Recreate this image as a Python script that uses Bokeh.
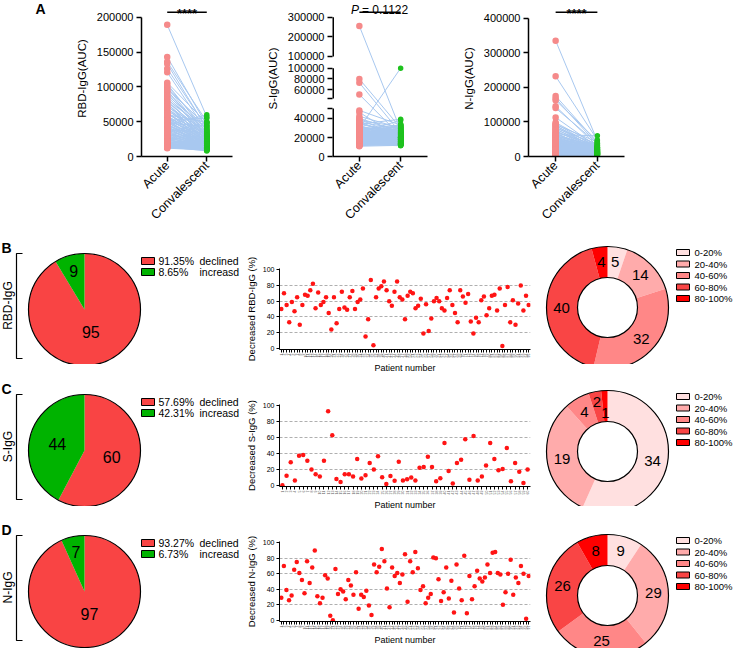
import math
from bokeh.plotting import figure
from bokeh.layouts import column, row
from bokeh.models import Range1d, FixedTicker
from bokeh.core.properties import value
from bokeh.embed import file_html
from bokeh.resources import INLINE

FONT = "Liberation Sans"

# ---------------- data ----------------
groups = ["Acute", "Convalescent"]

# Panel A: paired AUC values per patient (thousands of AUC)
rbd_acute_k = [189,143,136,133,126,121,106,104,101,99, 97,95,93,91,88,86,84,82,80,78,
               77,75,73,72,70,69,67,66,64,63, 62,61,59,58,57,56,55,54,53,52,
               51,50,49,48,47,46,45,44,43,42, 41,40,39,38,37,36,35,34,33,32,
               31,30,29,28,27.5,27,26,25,24.5,24, 23,22,21.5,21,20,19.5,19,18.5,18,17.5,
               17,16.5,16,15.5,15,14.5,14,13.5,13,12.5, 12,60,48,39,31,
               24,19,28,35,45,52,16,13,22]
rbd_conv_k = [57,45,50,40,42,36,48,33,38,30, 44,28,35,26,40,31,22,37,27,33,
              19,30,24,35,21,29,25,32,18,27, 23,31,20,26,16,29,22,24,14,27,
              19,23,17,25,12,21,18,24,15,20, 13,22,16,19,10,21,14,18,17,12,
              20,15,16,11,19,14,17,9,15,13, 16,12,14,17,11,13,15,10,12,14,
              9,13,11,12,10,13,8,11,12,10, 9,49,43,34,27,
              30,25,47,49,60,55,22,18,38]
s_acute_k = [255,80,73,52,48,46,40,38,37,36, 35,34,33,32,31,30,29.5,29,28.5,28,
             27.5,27,26.5,26,25.5,25,24.5,24,23.5,23, 22.5,22,21.5,21,20.5,20,19.5,19,18.5,18,
             17.5,17,16.5,16,15.5,15,14.5,14,13.5,13, 42,39,34,31,28,26,23,21,19,17,
             30,34,25,22,20,24,18,16,27,15, 21,14,19,13,23,17,12,20,15,26,
             18,14,12.5,22,16,13,24,17,19,12, 14.5,21,15.5,13.5,18.5,11.5,28,20.5,16.5,12,
             25,11,29,17.5]
s_conv_k = [28,30,25,22,33,20,26,31,18,29, 23,27,16,24,21,28,19,25,15,22,
            26,17,24,20,14,23,21,18,22,16, 20,19,13,18,17,15,18,16,14,17,
            12.5,15,16,13,14,12,13.5,13,12,11.5, 30,21,25,26,19,22,20,14,13,14,
            100,39,38,34,33,32,31,30,32,29, 28,27,27,26,26,25,24,24,23,28,
            22,21,20,25,19,18,30,21,23,17, 16,22,18,15,20,14,31,24,18,13,
            27,12,33,19]
n_acute_k = [335,232,175,168,163,145,140,113,98,95, 92,90,88,85,82,80,78,75,73,70,
             68,66,64,62,60,58,56,54,52,50, 48,47,45,44,42,41,40,38,37,36,
             35,34,33,32,31,30,29,28,27,26, 25,24,23,22,21,20,19.5,19,18,17.5,
             17,16,15.5,15,14,13.5,13,12.5,12,11.5, 11,10.5,10,9.5,9,8.5,8,7.5,7,6.5,
             6,5,4,3,58,52,46,39,33,27, 21,16,12,9,63,43,24,
             8,11,5,14,20,6,3]
n_conv_k = [45,48,40,35,45,30,38,28,33,25, 42,20,30,22,36,18,27,15,24,32,
            12,21,26,17,29,14,23,19,10,25, 16,21,13,18,9,20,15,22,11,17,
            8,14,19,12,16,7,13,18,10,15, 6,12,14,9,11,13,5,10,12,8,
            11,6,9,12,7,10,5,8,9,4, 7,8,5,6,4,5,3,6,4,3,
            4,3,2.5,2,30,26,24,20,16,14, 10,9,6,5,60,38,19,
            14,18,9,22,27,11,7]
sig_rbd = "****"
sig_s = "0.1122"
sig_n = "****"

# Panels B-D
pie_names = ["declined", "increasd"]
rbd_pie = [95, 9]
s_pie = [60, 44]
n_pie = [97, 7]
bins = ["0-20%", "20-40%", "40-60%", "60-80%", "80-100%"]
rbd_bins = [5, 14, 32, 40, 4]
s_bins = [34, 19, 4, 2, 1]
n_bins = [9, 29, 25, 26, 8]

rbd_decrease = [50,70,55,33,59,47,65,30,55,68, 67,74,82,51,71,55,59,65,45,24,
                65,32,50,72,52,49,65,73,50,59, 62,76,15,37,87,4,65,76,79,85,
                74,60,54,72,85,65,62,37,67,72, 70,51,54,63,19,56,22,38,60,64,
                60,51,48,64,74,55,45,33,74,66, 58,69,34,19,39,33,61,66,42,51,
                67,68,48,76,3, 55,78,33,61,30,57,80,48,67,55]
s_decrease = [0,12,29,6,37,38,31,20,14,11, 31,93,63,8,4,14,14,11,33,8.5,
              12.5,28,20,36.5,10,1.5,11.7,5.7,29.5,6, 7.7,9.7,6,22,23,36,23,5,9,53,
              18,2.4,28,32,58,7,62,6,11,25, 53,33,19,20.6,47,5,28,17,3,20]
n_decrease = [29,70,39,26,32,65,75,61,52,35, 76,48,68,90,31,22,29,58,54,6,
              0,66,34,40,37,27,52,45,33,62, 15,33,30,38,19,7,72,62,69,92,
              76,41,17,68,57,61,48,59,85,24, 76,62,88,67,39,44,22,29,34,81,
              80,53,25,36,68,28,51,10,72,41, 26,83,9,57,27,44,64,54,50,55,
              72,61,87,88,61,59,20,36, 60,78,33,55,48,70,60,2,57]

# ---------------- styles ----------------
C_ACUTE = "#F58A8A"
C_CONV = "#1EC21E"
C_LINE = "#A8C8F0"
C_RED = "#F94444"
C_GREEN = "#00B300"
C_DOT = "#FF1414"
BIN_COLORS = ["#FFE0E0", "#FFABAB", "#FF8787", "#F94545", "#FF0000"]

HA = 229    # height of row A (px)
FH = 159    # frame height of panel A plots (px)
TOP_B = HA + 8   # reference y where rows B-D start


def base_fig(**kw):
    p = figure(output_backend="svg", toolbar_location=None, **kw)
    p.outline_line_color = None
    p.background_fill_color = "white"
    p.border_fill_color = "white"
    return p


def txt(p, x, y, s, size, align="center", baseline="middle", style="normal", angle=0.0, x_off=0):
    p.text(x=[x], y=[y], text=[s], text_font=value(FONT), text_font_size=f"{size}px",
           text_align=align, text_baseline=baseline, text_font_style=style,
           angle=angle, x_offset=x_off, text_color="black")


def style_axis(ax, tick_px, label_px):
    ax.major_label_text_font = FONT
    ax.major_label_text_font_size = f"{tick_px}px"
    ax.major_label_text_color = "black"
    ax.axis_label_text_font = FONT
    ax.axis_label_text_font_size = f"{label_px}px"
    ax.axis_label_text_font_style = "normal"
    ax.axis_label_text_color = "black"
    ax.minor_tick_line_color = None
    ax.axis_line_color = "black"
    ax.major_tick_line_color = "black"


def pair_fig(acute, conv, width, left, right, ylabel, y_end, yticks, ylabels,
             disp, bounds=None, segs=None):
    p = base_fig(width=width, height=HA, x_range=Range1d(0.35, 2.65), y_range=Range1d(0, y_end),
                 min_border_left=left, min_border_right=right, min_border_top=0,
                 min_border_bottom=HA - FH)
    p.grid.visible = False
    ya = [disp(v) for v in acute]
    yc = [disp(v) for v in conv]
    p.multi_line(xs=[[1, 2] for _ in ya], ys=[[a, c] for a, c in zip(ya, yc)],
                 line_color=C_LINE, line_width=1)
    p.scatter(x=[1] * len(ya), y=ya, size=6.5, fill_color=C_ACUTE, line_color=None)
    p.scatter(x=[2] * len(yc), y=yc, size=5.5, fill_color=C_CONV, line_color=None)
    ya_ax = p.yaxis[0]
    style_axis(ya_ax, 11, 11.5)
    ya_ax.ticker = FixedTicker(ticks=yticks)
    ya_ax.major_label_overrides = dict(zip(yticks, ylabels))
    ya_ax.axis_label = ylabel
    ya_ax.major_tick_out = 5
    ya_ax.major_tick_in = 0
    ya_ax.major_tick_line_width = 1.5
    ya_ax.axis_line_width = 1.5
    ya_ax.major_label_standoff = 3
    ya_ax.axis_label_standoff = 6
    if bounds is not None:
        ya_ax.bounds = bounds
    if segs is not None:
        ya_ax.axis_line_color = None
        p.segment(x0=[0.35] * len(segs), x1=[0.35] * len(segs), y0=[s[0] for s in segs],
                  y1=[s[1] for s in segs], line_color="black", line_width=3)
    xa = p.xaxis[0]
    style_axis(xa, 12.5, 11)
    xa.ticker = FixedTicker(ticks=[1, 2])
    xa.major_label_overrides = {1: groups[0], 2: groups[1]}
    xa.major_label_orientation = math.pi / 4
    xa.major_tick_out = 5
    xa.major_tick_in = 0
    xa.major_tick_line_width = 1.5
    xa.axis_line_width = 1.5
    xa.major_label_standoff = 2
    upp = y_end / FH
    p.segment(x0=[1], x1=[2], y0=[(FH - 12) * upp], y1=[(FH - 12) * upp],
              line_color="black", line_width=1.6)
    return p, upp


K = 1000

# panel letter "A" in its own narrow canvas
aL = base_fig(width=72, height=HA, x_range=Range1d(8, 80), y_range=Range1d(-(HA + 8), -8),
              min_border=0, x_axis_type=None, y_axis_type=None)
aL.grid.visible = False
txt(aL, 43, -8, "A", 14, align="left", baseline="top", style="bold")

a1, upp1 = pair_fig(rbd_acute_k, rbd_conv_k, 170, 68, 10, "RBD-IgG(AUC)", 200000 * FH / 142,
                    [0, 50000, 100000, 150000, 200000], ["0", "50000", "100000", "150000", "200000"],
                    lambda v: v * K, bounds=(0, 200000))
txt(a1, 1.5, (FH - 13.5) * upp1, sig_rbd, 13, baseline="alphabetic", style="bold")


# broken axis for S-IgG: piecewise display (pixels above the x axis)
def s_disp(v):
    v = v * K
    if v <= 50000:
        pts = [(0, 0), (20000, 19), (40000, 39), (50000, 49)]
    elif v <= 100000:
        pts = [(45000, 59), (60000, 68), (80000, 79), (100000, 90)]
    else:
        pts = [(100000, 102), (200000, 122), (300000, 142)]
    for (x0, y0), (x1, y1) in zip(pts[:-1], pts[1:]):
        if v <= x1:
            return y0 + (v - x0) * (y1 - y0) / (x1 - x0)
    return pts[-1][1]


s_ticks = [0, 19, 39, 49, 59, 68, 79, 90, 102, 122, 142]
s_labels = ["0", "20000", "40000", "", "", "60000", "80000", "100000", "100000", "200000", "300000"]
a2, upp2 = pair_fig(s_acute_k, s_conv_k, 190, 90, 5, "S-IgG(AUC)", FH, s_ticks, s_labels,
                    s_disp, segs=[(0, 49), (59, 90), (102, 142)])
txt(a2, 1.5, (FH - 10) * upp2, "P", 12, align="left", baseline="alphabetic", style="italic", x_off=-29)
txt(a2, 1.5, (FH - 10) * upp2, "= " + sig_s, 12, align="left", baseline="alphabetic", x_off=-18)

a3, upp3 = pair_fig(n_acute_k, n_conv_k, 303, 96, 111, "N-IgG(AUC)", 400000 * FH / 141,
                    [0, 100000, 200000, 300000, 400000], ["0", "100000", "200000", "300000", "400000"],
                    lambda v: v * K, bounds=(0, 400000))
txt(a3, 1.5, (FH - 13.5) * upp3, sig_n, 13, baseline="alphabetic", style="bold")


# ---------------- pies ----------------
def pie_fig(counts, letter, name, top, bottom, cy):
    cx, r = 92, 56
    p = base_fig(width=242, height=bottom - top, x_range=Range1d(8, 250), y_range=Range1d(-bottom, -top),
                 min_border=0, x_axis_type=None, y_axis_type=None)
    p.grid.visible = False
    total = float(sum(counts))
    f_dec, f_inc = counts[0] / total, counts[1] / total
    a0 = math.pi / 2
    a1_ = a0 + 2 * math.pi * f_inc
    p.wedge(x=[cx, cx], y=[-cy, -cy], radius=r, start_angle=[a1_, a0], end_angle=[a0 + 2 * math.pi, a1_],
            fill_color=[C_RED, C_GREEN], line_color=None)
    p.circle(x=[cx], y=[-cy], radius=r, fill_color=None, line_color="black", line_width=1.2)
    for cnt, f, mid in [(counts[0], f_dec, (a1_ + a0 + 2 * math.pi) / 2), (counts[1], f_inc, (a0 + a1_) / 2)]:
        k = 0.72 if f < 0.15 else (0.42 if f > 0.8 else 0.5)
        txt(p, cx + k * r * math.cos(mid), -cy + k * r * math.sin(mid), str(cnt), 16)
    # legend
    for i, (cnt, nm, col) in enumerate(zip(counts, pie_names, [C_RED, C_GREEN])):
        yy = -(cy - 48.5 + 11 * i)
        p.rect(x=[155.5], y=[yy], width=13, height=7, fill_color=col, line_color="black", line_width=1)
        txt(p, 166, yy, f"{100 * cnt / total:.2f}%", 10.5, align="left")
        txt(p, 207, yy, nm, 10.5, align="left")
    # letter, bracket, side label
    txt(p, 9, -(cy - 62), letter, 14, align="left", style="bold")
    p.line(x=[30, 24, 24, 30], y=[-(cy - 56), -(cy - 56), -(cy + 49), -(cy + 49)],
           line_color="black", line_width=1.2)
    txt(p, 15, -(cy - 4), name, 12, angle=math.pi / 2)
    return p


pB = pie_fig(rbd_pie, "B", "RBD-IgG", TOP_B, 372, 317)
pC = pie_fig(s_pie, "C", "S-IgG", 372, 514, 458)
pD = pie_fig(n_pie, "D", "N-IgG", 514, 656, 599)


# ---------------- decrease scatter ----------------
def dec_fig(vals, ylabel, height, top, bottom):
    n = len(vals)
    p = base_fig(width=290, height=height, x_range=Range1d(0.3, n + 0.7), y_range=Range1d(-1.5, 101.5),
                 min_border_left=35, min_border_right=2, min_border_top=top, min_border_bottom=bottom)
    p.xgrid.visible = False
    p.ygrid.ticker = FixedTicker(ticks=[20, 40, 60, 80])
    p.ygrid.grid_line_color = "#9a9a9a"
    p.ygrid.grid_line_dash = "3 2"
    p.ygrid.grid_line_width = 0.8
    p.scatter(x=list(range(1, n + 1)), y=vals, size=4.5, fill_color=C_DOT, line_color=None)
    ya = p.yaxis[0]
    style_axis(ya, 7, 9.5)
    ya.ticker = FixedTicker(ticks=[0, 20, 40, 60, 80, 100])
    ya.axis_label = ylabel
    ya.major_tick_out = 3
    ya.major_tick_in = 0
    ya.major_label_standoff = 2
    ya.axis_label_standoff = 3
    xa = p.xaxis[0]
    style_axis(xa, 3.5, 9)
    xa.ticker = FixedTicker(ticks=list(range(1, n + 1)))
    xa.major_label_orientation = math.pi / 2
    xa.major_label_text_color = "#555555"
    xa.major_tick_out = 3
    xa.major_tick_in = 0
    xa.major_label_standoff = 1
    xa.axis_label = "Patient number"
    xa.axis_label_standoff = 3
    return p


sB = dec_fig(rbd_decrease, "Decreased RBD-IgG (%)", 384 - TOP_B, 276 - TOP_B, 24)
sC = dec_fig(s_decrease, "Decreased S-IgG (%)", 137, 28, 24)
sD = dec_fig(n_decrease, "Decreased N-IgG (%)", 135, 28, 24)


# ---------------- donuts ----------------
def donut_fig(counts, top, bottom, cy, lab_r=None):
    cx, R, r0 = 615, 61, 30
    p = base_fig(width=203, height=bottom - top, x_range=Range1d(540, 743), y_range=Range1d(-bottom, -top),
                 min_border=0, x_axis_type=None, y_axis_type=None)
    p.grid.visible = False
    total = float(sum(counts))
    cum = [0.0]
    for c in counts:
        cum.append(cum[-1] + c / total)
    starts = [math.pi / 2 - 2 * math.pi * cum[i + 1] for i in range(len(counts))]
    ends = [math.pi / 2 - 2 * math.pi * cum[i] for i in range(len(counts))]
    p.annular_wedge(x=cx, y=-cy, inner_radius=r0, outer_radius=R, start_angle=starts, end_angle=ends,
                    fill_color=BIN_COLORS, line_color=None)
    p.circle(x=[cx, cx], y=[-cy, -cy], radius=[R, r0], fill_color=None, line_color="black", line_width=1.2)
    if lab_r is None:
        lab_r = [46] * len(counts)
    for i, c in enumerate(counts):
        mid = (starts[i] + ends[i]) / 2
        txt(p, cx + lab_r[i] * math.cos(mid), -cy + lab_r[i] * math.sin(mid), str(c), 15)
    for i, (b, col) in enumerate(zip(bins, BIN_COLORS)):
        yy = -(cy - 55 + 11.5 * i)
        p.rect(x=[690.5], y=[yy], width=13, height=6, fill_color=col, line_color="black", line_width=1)
        txt(p, 702, yy, b, 9.5, align="left")
    return p


dB = donut_fig(rbd_bins, TOP_B, 372, 315)
dC = donut_fig(s_bins, 372, 514, 459, lab_r=[46, 46, 46, 51, 39])
dD = donut_fig(n_bins, 514, 656, 603)

layout = column(row(aL, a1, a2, a3),
                row(column(pB, pC, pD), column(sB, sC, sD), column(dB, dC, dD)))

open("out.html", "w").write(file_html(layout, INLINE))
